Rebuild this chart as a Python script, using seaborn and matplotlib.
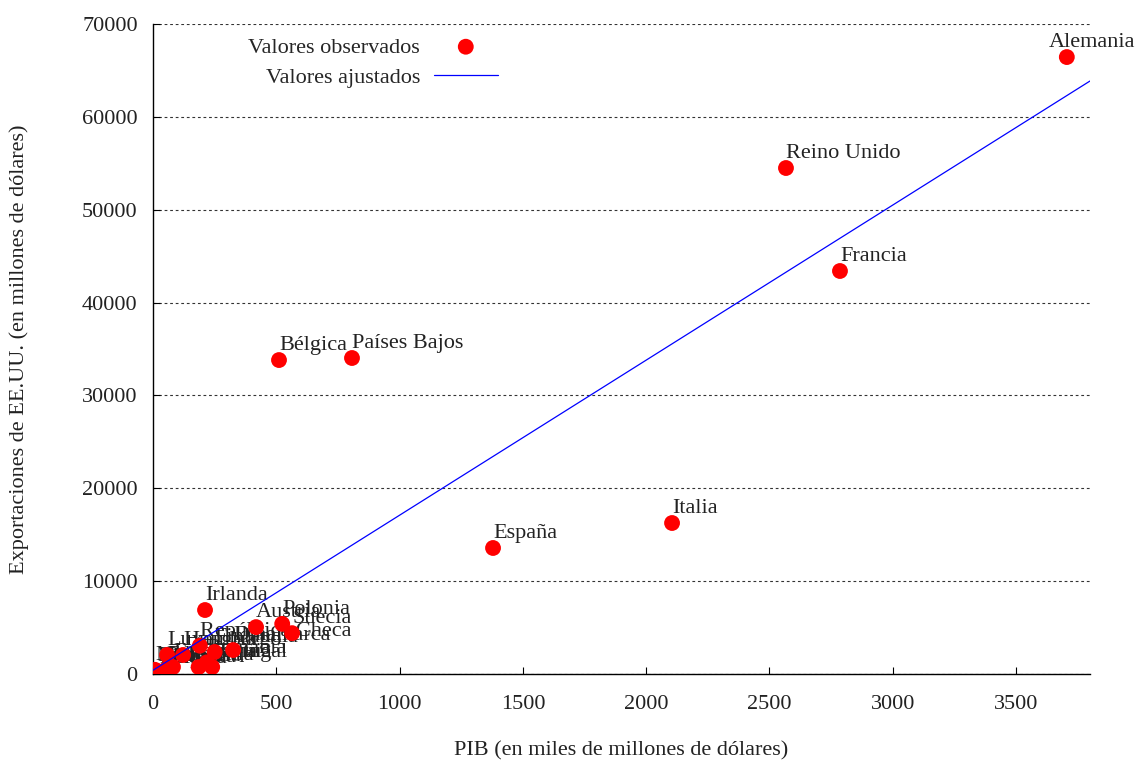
import numpy as np
import pandas as pd
import matplotlib
matplotlib.use("Agg")
import matplotlib.pyplot as plt
import seaborn as sns

sns.set_theme(style="white")
plt.rcParams['font.family'] = ['Liberation Serif', 'DejaVu Serif']
plt.rcParams['xtick.direction'] = 'in'
plt.rcParams['ytick.direction'] = 'in'

# PIB (miles de millones) y exportaciones de EE.UU. (millones)
countries = ['Alemania', 'Reino Unido', 'Francia', 'Países Bajos', 'Bélgica',
             'Italia', 'España', 'Irlanda', 'Austria', 'Polonia', 'Suecia',
             'Dinamarca', 'República Checa', 'Finlandia', 'Portugal', 'Grecia',
             'Hungría', 'Luxemburgo', 'Rumanía', 'Eslovaquia', 'Bulgaria',
             'Eslovenia', 'Lituania', 'Letonia', 'Estonia', 'Chipre', 'Malta']
gdp = [3706, 2567, 2786, 807, 511,
       2105, 1379, 211, 418, 524, 564,
       325, 190, 250, 240, 185,
       122, 57, 218, 81, 45,
       55, 40, 25, 18, 20, 8]
exports = [66440, 54490, 43400, 34030, 33810,
           16260, 13570, 6890, 5050, 5400, 4400,
           2580, 3050, 2370, 750, 750,
           2050, 2050, 1250, 750, 350,
           500, 250, 150, 300, 150, 450]

fit_intercept = 400
fit_slope = 16.7

df = pd.DataFrame({'pais': countries, 'pib': gdp, 'export': exports})

FS = 16
fig = plt.figure(figsize=(11.36, 7.6), dpi=100)
ax = fig.add_axes([153/1136, 1-674/760, (1090-153)/1136, (674-24)/760])

sns.scatterplot(data=df, x='pib', y='export', ax=ax, color='#ff0000', s=130,
                edgecolor='none', label='Valores observados', zorder=4)
ax.axline((0, fit_intercept), slope=fit_slope, color='#0000ff', lw=0.9,
          label='Valores ajustados', zorder=5)

for _, r in df.iterrows():
    dx = -13 if r['pais'] == 'Alemania' else 0
    ax.annotate(r['pais'], (r['pib'], r['export']), xytext=(dx, 7),
                textcoords='offset points', ha='left', va='baseline',
                fontsize=FS, color='#222222', zorder=3)

ax.set_xlim(0, 3800)
ax.set_ylim(0, 70000)
ax.set_xticks(np.arange(0, 3501, 500))
ax.set_yticks(np.arange(0, 70001, 10000))
ax.tick_params(labelsize=FS, length=5, width=0.8, colors='black',
               bottom=True, left=True)
ax.tick_params(axis='y', pad=11)
ax.tick_params(axis='x', pad=15)
for lbl in ax.get_xticklabels() + ax.get_yticklabels():
    lbl.set_color('#222222')

ax.yaxis.grid(True, color='#333333', linestyle=(0, (2.5, 2.5)), lw=0.8)
ax.set_axisbelow(True)
for side in ['top', 'right']:
    ax.spines[side].set_visible(False)
for side in ['left', 'bottom']:
    ax.spines[side].set_color('black')
    ax.spines[side].set_linewidth(1.0)

ax.set_xlabel('PIB (en miles de millones de dólares)', fontsize=FS,
              color='#222222', labelpad=20)
ax.set_ylabel('Exportaciones de EE.UU. (en millones de dólares)', fontsize=FS,
              color='#222222', labelpad=38)

ax.legend(loc='upper right', bbox_to_anchor=(518/1136, 1-17/760),
          bbox_transform=fig.transFigure, frameon=False, markerfirst=False,
          fontsize=FS, handlelength=2.9, handletextpad=0.6, labelspacing=0.45)

fig.savefig('out.png', dpi=100)
